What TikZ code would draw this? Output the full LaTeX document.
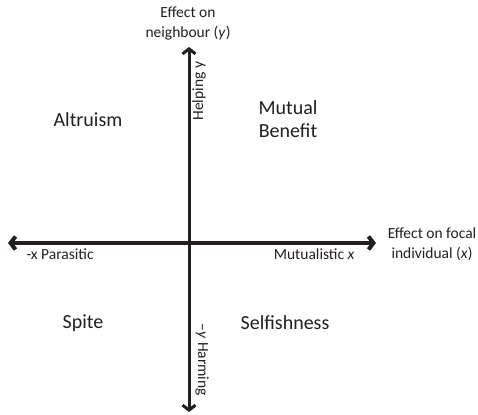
\documentclass[tikz,border=0pt]{standalone}
\usepackage{fontspec}
\setmainfont{Carlito}
\usetikzlibrary{arrows.meta}
\definecolor{ink}{HTML}{231F20}

\begin{document}
\begin{tikzpicture}[x=1pt,y=-1pt,color=ink,
  quad/.style={align=center,font=\fontsize{20}{23}\selectfont},
  axlabel/.style={align=center,font=\fontsize{15.5}{20}\selectfont},
  axis/.style={-{Straight Barb[length=5pt,width=13pt]}}]
\useasboundingbox (0,0) rectangle (478,414);
% axis ends
\coordinate (west) at (8,243);
\coordinate (east) at (376,243);
\coordinate (north) at (189,47);
\coordinate (south) at (189,412);
\coordinate (origin) at (189,243);
\draw[axis,line width=4pt] (origin) -- (west);
\draw[axis,line width=4pt] (origin) -- (east);
\draw[axis,line width=3pt] (origin) -- (north);
\draw[axis,line width=3pt] (origin) -- (south);

\node[axlabel] at (188,23) (ylab) {Effect on\\neighbour (\textit{y})};
\node[axlabel] at (432,244) (xlab) {Effect on focal\\individual (\textit{x})};
\node[axlabel,anchor=west] at (23,254) (neg x) {-x Parasitic};
\node[axlabel,anchor=east] at (358,254) (pos x) {Mutualistic \textit{x}};
\node[axlabel,rotate=90,anchor=west] at (199,124) (pos y) {Helping y};
\node[axlabel,rotate=-90,anchor=west] at (202,320) (neg y) {\textendash\textit{y} Harming};

\node[quad] at (88,120) (altr) {Altruism};
\node[quad] at (288,119) (mutual) {Mutual\\Benefit};
\node[quad] at (83,323) (spite) {Spite};
\node[quad] at (285,323) (selfish) {Selfishness};
\end{tikzpicture}
\end{document}
